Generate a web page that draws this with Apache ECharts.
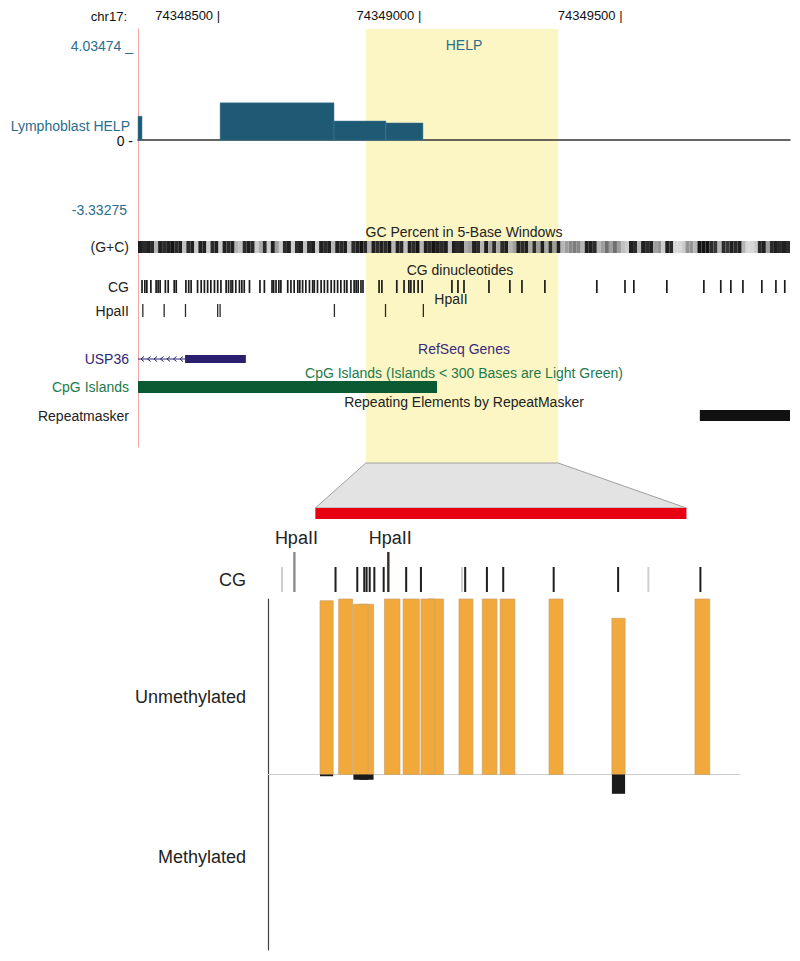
<!DOCTYPE html>
<html>
<head>
<meta charset="utf-8">
<script src="https://cdn.jsdelivr.net/npm/echarts@6/dist/echarts.min.js"></script>
<style>
  html, body { margin: 0; padding: 0; background: #fff; }
  #chart { width: 800px; height: 961px; }
</style>
</head>
<body>
<div id="chart"></div>
<script>
// genome browser view, chr17
const viewStart = 74348296
const viewEnd = 74349916
const highlight = [74348862, 74349340]

// HELP signal bins: [start offset, end offset, value]
const helpBins = [[0, 10, 1.03], [204, 487, 1.6], [487, 616, 0.82], [616, 708, 0.74]]
const helpMax = 4.03474
const helpMin = -3.33275

// GC percent, 10 bp windows from viewStart
const gcWindow = 10
const gcValues = [
  95, 90, 95, 90, 30, 95, 90, 95, 100, 90,
  95, 25, 90, 95, 20, 95, 95, 20, 90, 95,
  20, 95, 90, 95, 30, 25, 90, 95, 90, 20,
  35, 90, 20, 95, 40, 20, 90, 95, 20, 90,
  95, 25, 90, 95, 20, 95, 90, 95, 30, 95,
  90, 95, 25, 90, 95, 100, 90, 30, 95, 90,
  95, 90, 100, 30, 95, 90, 25, 95, 90, 100,
  30, 95, 90, 100, 95, 90, 95, 25, 95, 90,
  95, 35, 40, 95, 90, 30, 95, 40, 90, 35,
  90, 95, 30, 40, 95, 90, 95, 35, 90, 40,
  95, 35, 90, 40, 95, 30, 40, 50, 55, 50,
  30, 95, 95, 90, 30, 40, 60, 40, 60, 40,
  25, 20, 95, 90, 30, 95, 90, 95, 40, 45,
  20, 95, 90, 15, 15, 20, 45, 45, 30, 100,
  100, 100, 90, 85, 30, 90, 85, 95, 90, 95,
  30, 15, 15, 20, 90, 95, 40, 90, 95, 90,
  95, 90
]

// CG dinucleotides and HpaII sites (bp offsets from viewStart)
const cgOffsets = [10, 17, 22, 32, 45, 50, 55, 68, 75, 90, 95, 119, 126, 132, 148, 157, 165, 173, 181, 190,
  198, 206, 219, 225, 231, 235, 243, 252, 258, 264, 277, 303, 314, 333, 337, 343, 350, 355, 372, 380,
  388, 397, 402, 409, 417, 426, 434, 438, 446, 455, 463, 471, 480, 488, 496, 504, 513, 519, 529, 537,
  542, 547, 554, 559, 599, 606, 643, 661, 673, 678, 686, 696, 706, 780, 795, 810, 872, 924, 954, 1011,
  1140, 1210, 1232, 1314, 1406, 1448, 1473, 1503, 1550, 1585, 1607]
const hpaOffsets = [12, 65, 118, 198, 204, 488, 615, 709]

// features (bp offsets from viewStart)
const geneIntron = [0, 117]
const geneExon = [117, 268]
const cpgIsland = [0, 743]
const repeatBlock = [1396, 1620]

// zoomed panel
const zoomStart = 74348801
const zoomEnd = 74349409
const lowerCgPos = [74348819, 74348888, 74348916, 74348925, 74348928, 74348932, 74348938, 74348950,
  74348979, 74348998, 74349051, 74349055, 74349083, 74349104, 74349169, 74349252, 74349291, 74349358]
const lowerCgTone = ['l', 'k', 'k', 'k', 'k', 'k', 'k', 'k', 'k', 'k', 'l', 'k', 'k', 'k', 'k', 'k', 'l', 'k']
const lowerHpaPos = [74348835, 74348956]
const lowerHpaTone = ['g', 'd']
// probes: [start, end, unmethylated fraction, methylated fraction]
const probes = [
  [74348868, 74348885, 0.99, 0.01],
  [74348892, 74348910, 1.0, 0],
  [74348919, 74348937, 0.97, 0.03],
  [74348911, 74348930, 0.97, 0.03],
  [74348951, 74348971, 1.0, 0],
  [74348975, 74348996, 1.0, 0],
  [74349007, 74349027, 1.0, 0],
  [74348998, 74349016, 1.0, 0],
  [74349047, 74349065, 1.0, 0],
  [74349077, 74349096, 1.0, 0],
  [74349100, 74349119, 1.0, 0],
  [74349163, 74349181, 1.0, 0],
  [74349244, 74349261, 0.89, 0.11],
  [74349351, 74349370, 1.0, 0]
]

;(function () {
  let myChart = echarts.init(document.getElementById('chart'), null, { renderer: 'svg' })
  const FONT = '"Liberation Sans", Arial, sans-serif'
  const toneColor = { l: '#cfcfcf', g: '#8c8c8c', k: '#1e1e1e', d: '#3a2a2a' }

  function gcColor(v) {
    const g = Math.round(250 - v * 2.3)
    return 'rgb(' + g + ',' + g + ',' + g + ')'
  }

  // rect across the whole band of a one-row category track
  function spanItem(colorOf) {
    return function (params, api) {
      const a = api.coord([api.value(0), 0])
      const b = api.coord([api.value(1), 0])
      const h = api.size([0, 1])[1]
      return {
        type: 'rect',
        shape: { x: a[0], y: a[1] - h / 2, width: b[0] - a[0], height: h },
        style: { fill: colorOf(params.dataIndex) }
      }
    }
  }

  // vertical tick sitting on the bottom of a track band, k = height factor
  function tickItem(w, colorOf, k) {
    return function (params, api) {
      const p = api.coord([api.value(0), 0])
      const h = api.size([0, 1])[1]
      return {
        type: 'rect',
        shape: { x: p[0] - w / 2, y: p[1] + h / 2 - h * k, width: w, height: h * k },
        style: { fill: colorOf(params.dataIndex) }
      }
    }
  }

  const gcData = gcValues.map((v, i) => [viewStart + i * gcWindow, viewStart + (i + 1) * gcWindow])
  const cgData = cgOffsets.map(o => [viewStart + o])
  const hpaData = hpaOffsets.map(o => [viewStart + o])

  const topGrids = [
    { top: 29, height: 434 },   // 0 highlight background
    { top: 29, height: 418 },   // 1 frame line
    { top: 46, height: 172 },   // 2 HELP
    { top: 241, height: 12 },   // 3 GC
    { top: 280, height: 13 },   // 4 CG
    { top: 304, height: 13 },   // 5 HpaII
    { top: 355, height: 8 },    // 6 USP36
    { top: 381, height: 12 },   // 7 CpG
    { top: 410, height: 11 }    // 8 Repeatmasker
  ]
  const grid = topGrids.map(g => ({ left: 138, width: 652, top: g.top, height: g.height }))
  grid.push({ left: 268, width: 472, top: 567, height: 25 })  // 9 lower CG
  grid.push({ left: 268, width: 472, top: 508, height: 11 })  // 10 red bar
  grid.push({ left: 268, width: 472, top: 599, height: 351 }) // 11 probes

  const xAxis = grid.map((g, i) => ({
    gridIndex: i,
    type: 'value',
    min: i < 9 ? viewStart : zoomStart,
    max: i < 9 ? viewEnd : zoomEnd,
    show: false
  }))
  xAxis[0] = {
    gridIndex: 0, type: 'value', position: 'top', min: viewStart, max: viewEnd,
    minInterval: 500, maxInterval: 500,
    axisLine: { show: false }, axisTick: { show: false }, splitLine: { show: false },
    axisLabel: {
      formatter: v => v + ' |', align: 'right', margin: 7, showMinLabel: false, showMaxLabel: false,
      color: '#111', fontSize: 13, fontFamily: FONT
    }
  }
  xAxis[2] = {
    gridIndex: 2, type: 'value', min: viewStart, max: viewEnd,
    axisLine: { show: true, onZero: true, lineStyle: { color: '#333', width: 1.5 } },
    axisTick: { show: false }, axisLabel: { show: false }, splitLine: { show: false }
  }
  xAxis[11] = {
    gridIndex: 11, type: 'value', min: zoomStart, max: zoomEnd,
    axisLine: { show: true, onZero: true, lineStyle: { color: '#cccccc', width: 1 } },
    axisTick: { show: false }, axisLabel: { show: false }, splitLine: { show: false }
  }

  function trackAxis(i, label, color, fontSize, margin) {
    return {
      gridIndex: i, type: 'category', data: [label],
      axisLine: { show: false }, axisTick: { show: false }, splitLine: { show: false },
      axisLabel: { color: color, fontSize: fontSize || 14, fontFamily: FONT, margin: margin || 9 }
    }
  }

  const yAxis = [
    { gridIndex: 0, type: 'value', min: 0, max: 1, show: false },
    {
      gridIndex: 1, type: 'value', min: 0, max: 1,
      axisLine: { show: true, lineStyle: { color: '#f2a6a6', width: 1 } },
      axisTick: { show: false }, axisLabel: { show: false }, splitLine: { show: false }
    },
    { gridIndex: 2, type: 'value', min: helpMin, max: helpMax, show: false },
    trackAxis(3, '(G+C)', '#222'),
    trackAxis(4, 'CG', '#222'),
    trackAxis(5, 'HpaII', '#222'),
    trackAxis(6, 'USP36', '#2c2472'),
    trackAxis(7, 'CpG Islands', '#1d7a4c'),
    trackAxis(8, 'Repeatmasker', '#222'),
    trackAxis(9, 'CG', '#222', 18, 22),
    { gridIndex: 10, type: 'value', min: 0, max: 1, show: false },
    {
      gridIndex: 11, type: 'value', min: -1, max: 1,
      axisLine: { show: true, lineStyle: { color: '#444', width: 1.2 } },
      axisTick: { show: false }, axisLabel: { show: false }, splitLine: { show: false }
    }
  ]

  const texts = [
    ['chr17:', 127, 16, 'right', '#111', 13],
    ['4.03474 _', 133, 46, 'right', '#2b6d8c', 14],
    ['Lymphoblast HELP', 130, 126, 'right', '#2b6d8c', 14],
    ['0 -', 133, 141, 'right', '#111', 14],
    ['-3.33275', 127, 210, 'right', '#2b6d8c', 14],
    ['HELP', 464, 45, 'center', '#2b6d8c', 14],
    ['GC Percent in 5-Base Windows', 464, 232, 'center', '#222', 14],
    ['CG dinucleotides', 460, 270, 'center', '#222', 14],
    ['HpaII', 451, 299, 'center', '#222', 14],
    ['RefSeq Genes', 464, 349, 'center', '#3a2c7a', 14],
    ['CpG Islands (Islands < 300 Bases are Light Green)', 464, 373, 'center', '#1d7a4c', 14],
    ['Repeating Elements by RepeatMasker', 464, 402, 'center', '#222', 14],
    ['Unmethylated', 246, 697, 'right', '#222', 18],
    ['Methylated', 246, 857, 'right', '#222', 18]
  ]

  let option = {
    animation: false,
    backgroundColor: '#fff',
    grid: grid,
    xAxis: xAxis,
    yAxis: yAxis,
    graphic: texts.map((t, i) => ({
      id: 'txt' + i, type: 'text', x: t[1], y: t[2], z: 100,
      style: { text: t[0], align: t[3], verticalAlign: 'middle', fill: t[4], font: t[5] + 'px ' + FONT }
    })),
    series: [
      {
        // highlighted region
        type: 'custom', xAxisIndex: 0, yAxisIndex: 0, z: 0,
        data: [highlight],
        encode: { x: [0, 1] },
        renderItem: (params, api) => {
          const a = api.coord([api.value(0), 1])
          const b = api.coord([api.value(1), 0])
          return { type: 'rect', shape: { x: a[0], y: a[1], width: b[0] - a[0], height: b[1] - a[1] }, style: { fill: '#fcf6c4' } }
        }
      },
      {
        name: 'Lymphoblast HELP',
        type: 'custom', xAxisIndex: 2, yAxisIndex: 2,
        data: helpBins.map(b => [viewStart + b[0], viewStart + b[1], b[2]]),
        encode: { x: [0, 1], y: 2 },
        renderItem: (params, api) => {
          const a = api.coord([api.value(0), api.value(2)])
          const b = api.coord([api.value(1), 0])
          return { type: 'rect', shape: { x: a[0], y: a[1], width: b[0] - a[0], height: b[1] - a[1] }, style: { fill: '#1f5a74', stroke: '#3f7f99', lineWidth: 0.5 } }
        }
      },
      {
        name: '(G+C)', type: 'custom', xAxisIndex: 3, yAxisIndex: 3,
        data: gcData, encode: { x: [0, 1] }, renderItem: spanItem(i => gcColor(gcValues[i]))
      },
      {
        name: 'CG', type: 'custom', xAxisIndex: 4, yAxisIndex: 4,
        data: cgData, encode: { x: 0 }, renderItem: tickItem(1.7, () => '#1c1c1c', 1)
      },
      {
        name: 'HpaII', type: 'custom', xAxisIndex: 5, yAxisIndex: 5,
        data: hpaData, encode: { x: 0 }, renderItem: tickItem(1.3, () => '#2a2a2a', 1)
      },
      {
        // USP36 intron with strand arrows
        type: 'custom', xAxisIndex: 6, yAxisIndex: 6,
        data: [[viewStart + geneIntron[0], viewStart + geneIntron[1]]],
        encode: { x: [0, 1] },
        renderItem: (params, api) => {
          const a = api.coord([api.value(0), 0])
          const b = api.coord([api.value(1), 0])
          const kids = [{ type: 'line', shape: { x1: a[0], y1: a[1], x2: b[0], y2: a[1] }, style: { stroke: '#2c2472', lineWidth: 1 } }]
          for (let x = a[0] + 4; x < b[0] - 2; x += 6.5) {
            kids.push({ type: 'polyline', shape: { points: [[x + 2, a[1] - 2.5], [x - 1, a[1]], [x + 2, a[1] + 2.5]] }, style: { stroke: '#2c2472', lineWidth: 1, fill: null } })
          }
          return { type: 'group', children: kids }
        }
      },
      {
        name: 'USP36', type: 'custom', xAxisIndex: 6, yAxisIndex: 6,
        data: [[viewStart + geneExon[0], viewStart + geneExon[1]]],
        encode: { x: [0, 1] }, renderItem: spanItem(() => '#2a1f6e')
      },
      {
        name: 'CpG Islands', type: 'custom', xAxisIndex: 7, yAxisIndex: 7,
        data: [[viewStart + cpgIsland[0], viewStart + cpgIsland[1]]],
        encode: { x: [0, 1] }, renderItem: spanItem(() => '#0b5a34')
      },
      {
        name: 'Repeatmasker', type: 'custom', xAxisIndex: 8, yAxisIndex: 8,
        data: [[viewStart + repeatBlock[0], viewStart + repeatBlock[1]]],
        encode: { x: [0, 1] }, renderItem: spanItem(() => '#111')
      },
      {
        name: 'CG sites', type: 'custom', xAxisIndex: 9, yAxisIndex: 9,
        data: lowerCgPos.map(p => [p]), encode: { x: 0 },
        renderItem: tickItem(2, i => toneColor[lowerCgTone[i]], 1)
      },
      {
        name: 'HpaII sites', type: 'custom', xAxisIndex: 9, yAxisIndex: 9,
        data: lowerHpaPos.map(p => [p]), encode: { x: 0 },
        renderItem: (params, api) => {
          const p = api.coord([api.value(0), 0])
          const band = api.size([0, 1])[1]
          const h = band * 1.6
          const base = p[1] + band / 2
          return {
            type: 'group',
            children: [
              { type: 'rect', shape: { x: p[0] - 1.2, y: base - h, width: 2.4, height: h }, style: { fill: toneColor[lowerHpaTone[params.dataIndex]] } },
              { type: 'text', style: { text: 'HpaII', x: p[0] + 2, y: base - h - 5, align: 'center', verticalAlign: 'bottom', fill: '#222', font: '18px ' + FONT } }
            ]
          }
        }
      },
      {
        // zoomed region bar
        type: 'custom', xAxisIndex: 10, yAxisIndex: 10,
        data: [highlight], encode: { x: [0, 1] },
        renderItem: (params, api) => {
          const a = api.coord([api.value(0), 1])
          const b = api.coord([api.value(1), 0])
          return { type: 'rect', shape: { x: a[0], y: a[1], width: b[0] - a[0], height: b[1] - a[1] }, style: { fill: '#e60012' } }
        }
      },
      {
        name: 'Methylation', type: 'custom', xAxisIndex: 11, yAxisIndex: 11,
        data: probes, encode: { x: [0, 1], y: [2, 3] },
        renderItem: (params, api) => {
          const a = api.coord([api.value(0), api.value(2)])
          const b = api.coord([api.value(1), 0])
          const c = api.coord([api.value(1), -api.value(3)])
          return {
            type: 'group',
            children: [
              { type: 'rect', shape: { x: a[0], y: a[1], width: b[0] - a[0], height: b[1] - a[1] }, style: { fill: '#f2a93c', stroke: '#c9a06a', lineWidth: 0.7 } },
              { type: 'rect', shape: { x: a[0], y: b[1], width: b[0] - a[0], height: c[1] - b[1] }, style: { fill: '#1a1a1a' } }
            ]
          }
        }
      }
    ]
  }

  myChart.setOption(option)

  // grey connector from the highlighted region to the zoomed bar
  const x0 = myChart.convertToPixel({ xAxisIndex: 0 }, highlight[0])
  const x1 = myChart.convertToPixel({ xAxisIndex: 0 }, highlight[1])
  const yTop = myChart.convertToPixel({ yAxisIndex: 0 }, 0)
  const x2 = myChart.convertToPixel({ xAxisIndex: 10 }, highlight[0])
  const x3 = myChart.convertToPixel({ xAxisIndex: 10 }, highlight[1])
  const yBot = myChart.convertToPixel({ yAxisIndex: 10 }, 1)
  myChart.setOption({
    graphic: [{
      id: 'zoomLink', type: 'polygon', z: 1,
      shape: { points: [[x0, yTop], [x1, yTop], [x3, yBot], [x2, yBot]] },
      style: { fill: '#e3e3e3', stroke: '#a0a0a0', lineWidth: 1 }
    }]
  })
})()
</script>
</body>
</html>
